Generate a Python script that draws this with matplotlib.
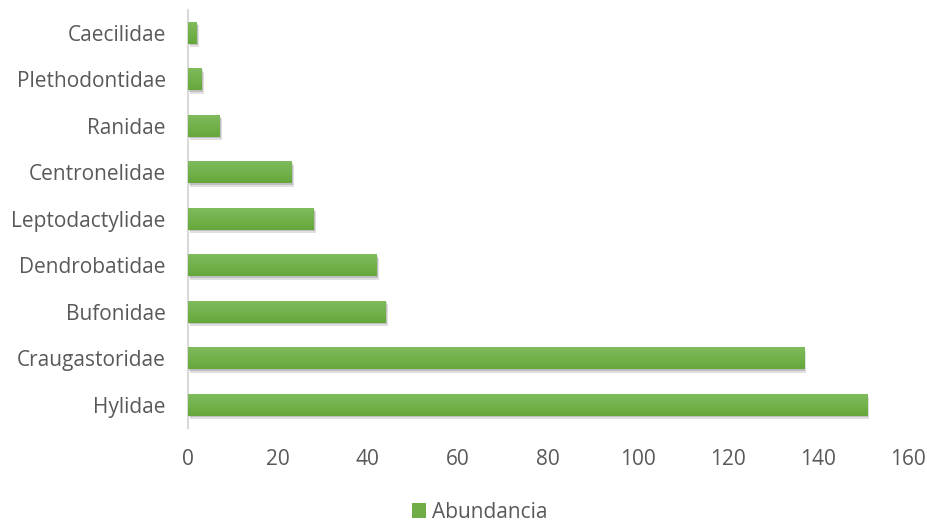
import numpy as np
import matplotlib
matplotlib.use("Agg")
from matplotlib import pyplot as plt
from matplotlib import patheffects as pe
from matplotlib.patches import Patch
from matplotlib.colors import LinearSegmentedColormap

plt.rcParams["font.family"] = ["Open Sans", "DejaVu Sans"]

familias = [
    "Hylidae",
    "Craugastoridae",
    "Bufonidae",
    "Dendrobatidae",
    "Leptodactylidae",
    "Centronelidae",
    "Ranidae",
    "Plethodontidae",
    "Caecilidae",
]
abundancia = [151, 137, 44, 42, 28, 23, 7, 3, 2]
xticks = [0, 20, 40, 60, 80, 100, 120, 140, 160]

gris = "#595959"
verde = "#70AD47"

fig = plt.figure(figsize=(9.28, 5.23), dpi=100)
ax = fig.add_axes([0.2026, 0.1817, 0.7754, 0.8])

y = np.arange(len(familias))
bars = ax.barh(y, abundancia, height=0.47, color=verde, zorder=2)

# soft drop shadow plus a light (top) to dark (bottom) gradient on each bar
grad = LinearSegmentedColormap.from_list("g", ["#7EBC5C", "#65A73B"])
for b in bars:
    b.set_path_effects([
        pe.SimplePatchShadow(offset=(1.5, -2.5), shadow_rgbFace="#000000",
                             alpha=0.12),
        pe.SimplePatchShadow(offset=(0.8, -1.2), shadow_rgbFace="#000000",
                             alpha=0.15),
        pe.Normal(),
    ])
    x0, y0 = b.get_x(), b.get_y()
    w, h = b.get_width(), b.get_height()
    im = ax.imshow(np.linspace(0, 1, 50).reshape(-1, 1), cmap=grad,
                   aspect="auto", extent=(x0, x0 + w, y0, y0 + h),
                   origin="upper", zorder=3)
    im.set_clip_path(b)

ax.set_xlim(0, 160)
ax.set_ylim(-0.5, len(familias) - 0.5)
ax.set_xticks(xticks)
ax.set_yticks(y)
ax.set_yticklabels(familias)

for s in ["top", "right", "bottom"]:
    ax.spines[s].set_visible(False)
ax.spines["left"].set_color("#D9D9D9")
ax.spines["left"].set_linewidth(1.5)
ax.tick_params(axis="both", length=0, colors=gris, labelsize=15)
ax.tick_params(axis="x", pad=15)
ax.tick_params(axis="y", pad=16)

handle = Patch(facecolor=verde, edgecolor="none")
fig.legend(handles=[handle], labels=["Abundancia"], loc="lower center",
           bbox_to_anchor=(0.517, -0.035), frameon=False, fontsize=15,
           handlelength=0.7, handleheight=0.7, handletextpad=0.3,
           labelcolor=gris)

fig.savefig("out.png", dpi=100)
